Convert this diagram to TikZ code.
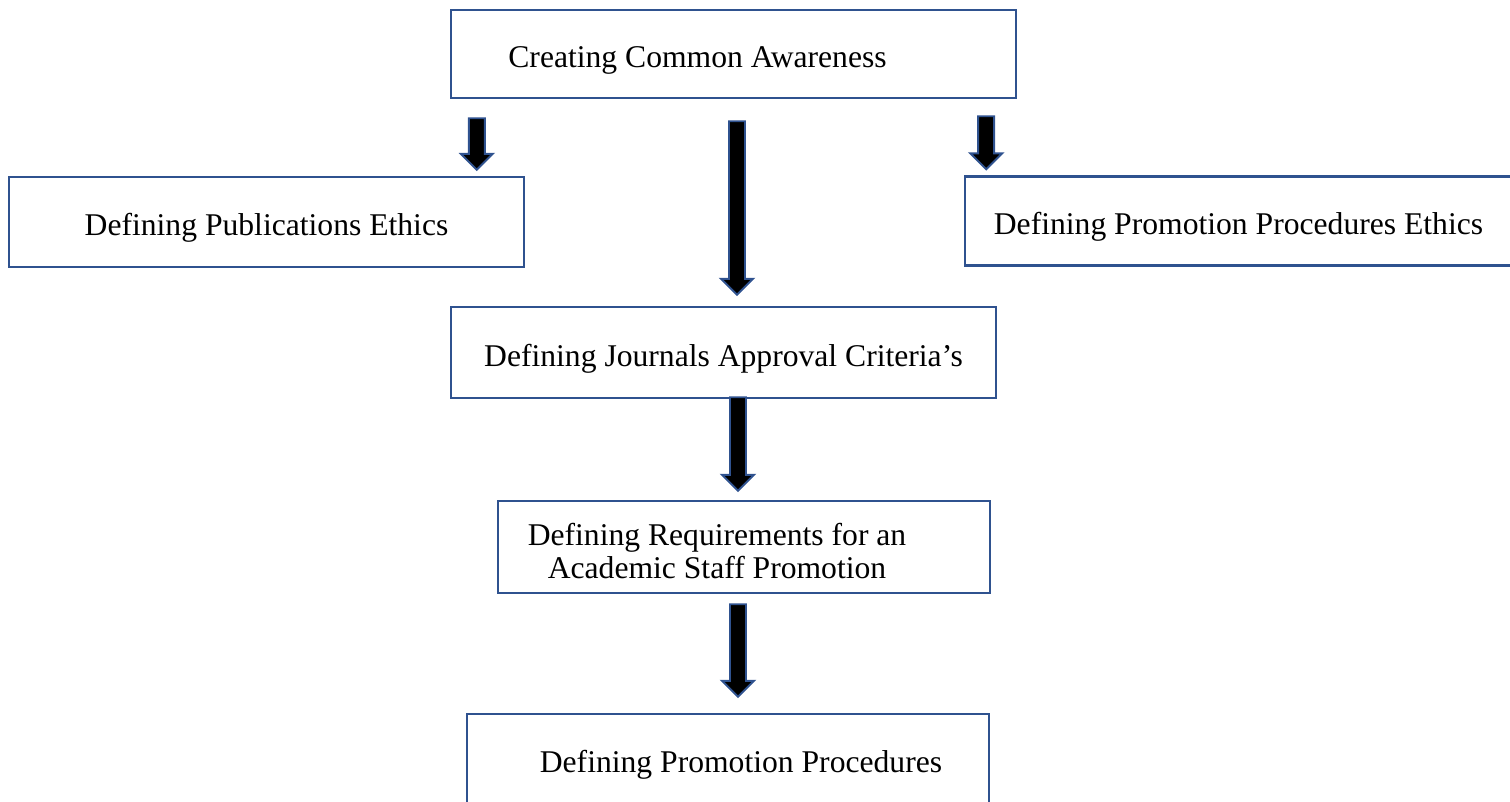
\documentclass[tikz,border=0pt]{standalone}
\usepackage{fontspec}
\setmainfont{Liberation Serif}
\usetikzlibrary{calc}
\definecolor{BoxBlue}{HTML}{2F528F}
\tikzset{
    box/.style={rectangle, draw=BoxBlue, line width=1.4pt, inner sep=0pt, font=\fontsize{18}{19}\selectfont, align=center, text height=15.5pt, text depth=0pt},
    blockarrow/.style={draw=BoxBlue, fill=black, line width=1.1pt, line join=miter},
}
% block arrow: shaft top at #1, tip height taken from #2
\newcommand{\blockarrow}[2]{%
    \path let \p1=#1, \p2=#2 in [blockarrow]
        (\x1-0.16cm,\y1) -- (\x1+0.16cm,\y1) -- (\x1+0.16cm,\y2+0.32cm) -- (\x1+0.32cm,\y2+0.32cm)
        -- (\x1,\y2) -- (\x1-0.32cm,\y2+0.32cm) -- (\x1-0.16cm,\y2+0.32cm) -- cycle;}

\begin{document}
\begin{tikzpicture}[x=0.02cm, y=-0.02cm]
    \useasboundingbox (0,0) rectangle (1510,801);
    \clip (0,0) rectangle (1510,801);

    % boxes
    \node[box, minimum width=11.3cm, minimum height=1.76cm] (aware) at (733.5,54) {Creating Common Awareness\hspace*{1.44cm}};
    \node[box, minimum width=10.3cm, minimum height=1.8cm] (pubethics) at (266.5,222) {Defining Publications Ethics};
    \node[box, minimum width=10.94cm, minimum height=1.78cm] (promethics) at (1238.5,221) {Defining Promotion Procedures Ethics};
    \node[box, minimum width=10.9cm, minimum height=1.82cm] (journals) at (723.5,352.5) {Defining Journals Approval Criteria's};
    \node[box, minimum width=9.84cm, minimum height=1.84cm, text height=28pt, text depth=10pt] (reqs) at (744,547) {\begin{tabular}{@{}c@{}}Defining Requirements for an\\Academic Staff Promotion\end{tabular}\hspace*{1.08cm}};
    \node[box, minimum width=10.44cm, minimum height=1.8cm] (promproc) at (728,759) {\hspace*{0.52cm}Defining Promotion Procedures};

    % arrows
    \blockarrow{($(aware.south west)+(27,19)$)}{($(pubethics.north)+(0,-6)$)}
    \blockarrow{($(aware.south)+(3.5,22)$)}{($(journals.north)+(0,-11)$)}
    \blockarrow{($(aware.south east)+(-31,17)$)}{($(promethics.north)+(0,-6)$)}
    \blockarrow{($(journals.south)+(14.5,-2)$)}{($(reqs.north)+(0,-9)$)}
    \blockarrow{($(reqs.south)+(-6,10)$)}{($(promproc.north)+(0,-16)$)}
\end{tikzpicture}
\end{document}
